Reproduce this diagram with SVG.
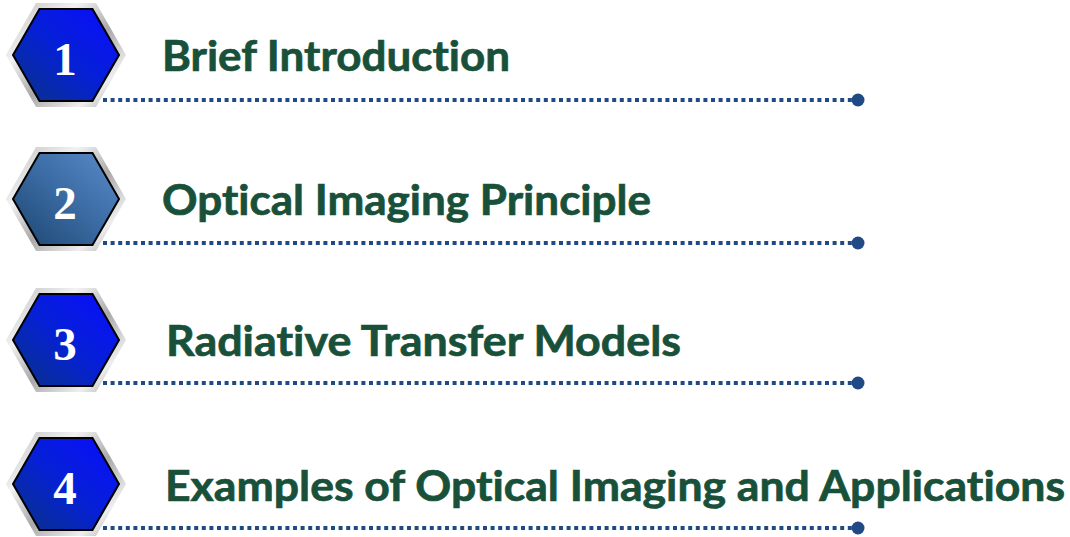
<svg xmlns="http://www.w3.org/2000/svg" width="1070" height="537" viewBox="0 0 1070 537">
  <defs>
    <!-- metallic frame -->
    <linearGradient id="silver" x1="0" y1="0" x2="1" y2="1">
      <stop offset="0" stop-color="#bdbdbd"/>
      <stop offset="0.3" stop-color="#f2f2f2"/>
      <stop offset="0.55" stop-color="#a9a9a9"/>
      <stop offset="0.8" stop-color="#eeeeee"/>
      <stop offset="1" stop-color="#a0a0a0"/>
    </linearGradient>
    <linearGradient id="blue" x1="1" y1="0" x2="0" y2="1">
      <stop offset="0" stop-color="#0a0cff"/>
      <stop offset="0.5" stop-color="#0520d6"/>
      <stop offset="1" stop-color="#0a3382"/>
    </linearGradient>
    <linearGradient id="steel" x1="1" y1="0" x2="0" y2="1">
      <stop offset="0" stop-color="#5a8ccb"/>
      <stop offset="0.5" stop-color="#3a6aa2"/>
      <stop offset="1" stop-color="#1c4670"/>
    </linearGradient>
    <polygon id="hexOuter" points="-60,0 -30,-52 30,-52 60,0 30,52 -30,52"/>
    <polygon id="hexInner" points="-53,0 -26.5,-45.9 26.5,-45.9 53,0 26.5,45.9 -26.5,45.9"/>
    <style>
      .frame { fill: url(#silver); }
      .face { stroke: #000; stroke-width: 2; }
      .num { font-family: "Liberation Serif", "Times New Roman", serif; font-weight: bold; font-size: 47px; fill: #fff; text-anchor: middle; }
      .title { font-family: Lato, "Open Sans", "Liberation Sans", sans-serif; font-weight: bold; font-size: 42px; fill: #18503a; stroke: #18503a; stroke-width: 0.7; font-variant-ligatures: none; }
      .dots { stroke: #1f4a86; stroke-width: 4; stroke-dasharray: 4 3.6; fill: none; }
      .end { fill: #1f4a86; }
    </style>
  </defs>

  <!-- dotted leader lines with end dots -->
  <g id="connectors">
    <line class="dots" x1="103" y1="100" x2="852" y2="100"/>
    <circle class="end" cx="858" cy="100" r="6.5"/>
    <line class="dots" x1="103" y1="243" x2="852" y2="243"/>
    <circle class="end" cx="858" cy="243" r="6.5"/>
    <line class="dots" x1="103" y1="383" x2="852" y2="383"/>
    <circle class="end" cx="858" cy="383" r="6.5"/>
    <line class="dots" x1="103" y1="528" x2="852" y2="528"/>
    <circle class="end" cx="858" cy="528" r="6.5"/>
  </g>

  <g id="node1">
    <g transform="translate(66,55)">
      <use href="#hexOuter" class="frame"/>
      <use href="#hexInner" class="face" fill="url(#blue)"/>
      <text class="num" x="-1" y="20">1</text>
    </g>
    <text class="title" x="162" y="71" textLength="348" lengthAdjust="spacingAndGlyphs">Brief Introduction</text>
  </g>

  <g id="node2">
    <g transform="translate(66,199)">
      <use href="#hexOuter" class="frame"/>
      <use href="#hexInner" class="face" fill="url(#steel)"/>
      <text class="num" x="-1" y="20">2</text>
    </g>
    <text class="title" x="162" y="215" textLength="489" lengthAdjust="spacingAndGlyphs">Optical Imaging Principle</text>
  </g>

  <g id="node3">
    <g transform="translate(66,340)">
      <use href="#hexOuter" class="frame"/>
      <use href="#hexInner" class="face" fill="url(#blue)"/>
      <text class="num" x="-1" y="20">3</text>
    </g>
    <text class="title" x="166" y="356" textLength="515" lengthAdjust="spacingAndGlyphs">Radiative Transfer Models</text>
  </g>

  <g id="node4">
    <g transform="translate(66,484)">
      <use href="#hexOuter" class="frame"/>
      <use href="#hexInner" class="face" fill="url(#blue)"/>
      <text class="num" x="-1" y="20">4</text>
    </g>
    <text class="title" x="165" y="501" textLength="900" lengthAdjust="spacingAndGlyphs">Examples of Optical Imaging and Applications</text>
  </g>
</svg>
